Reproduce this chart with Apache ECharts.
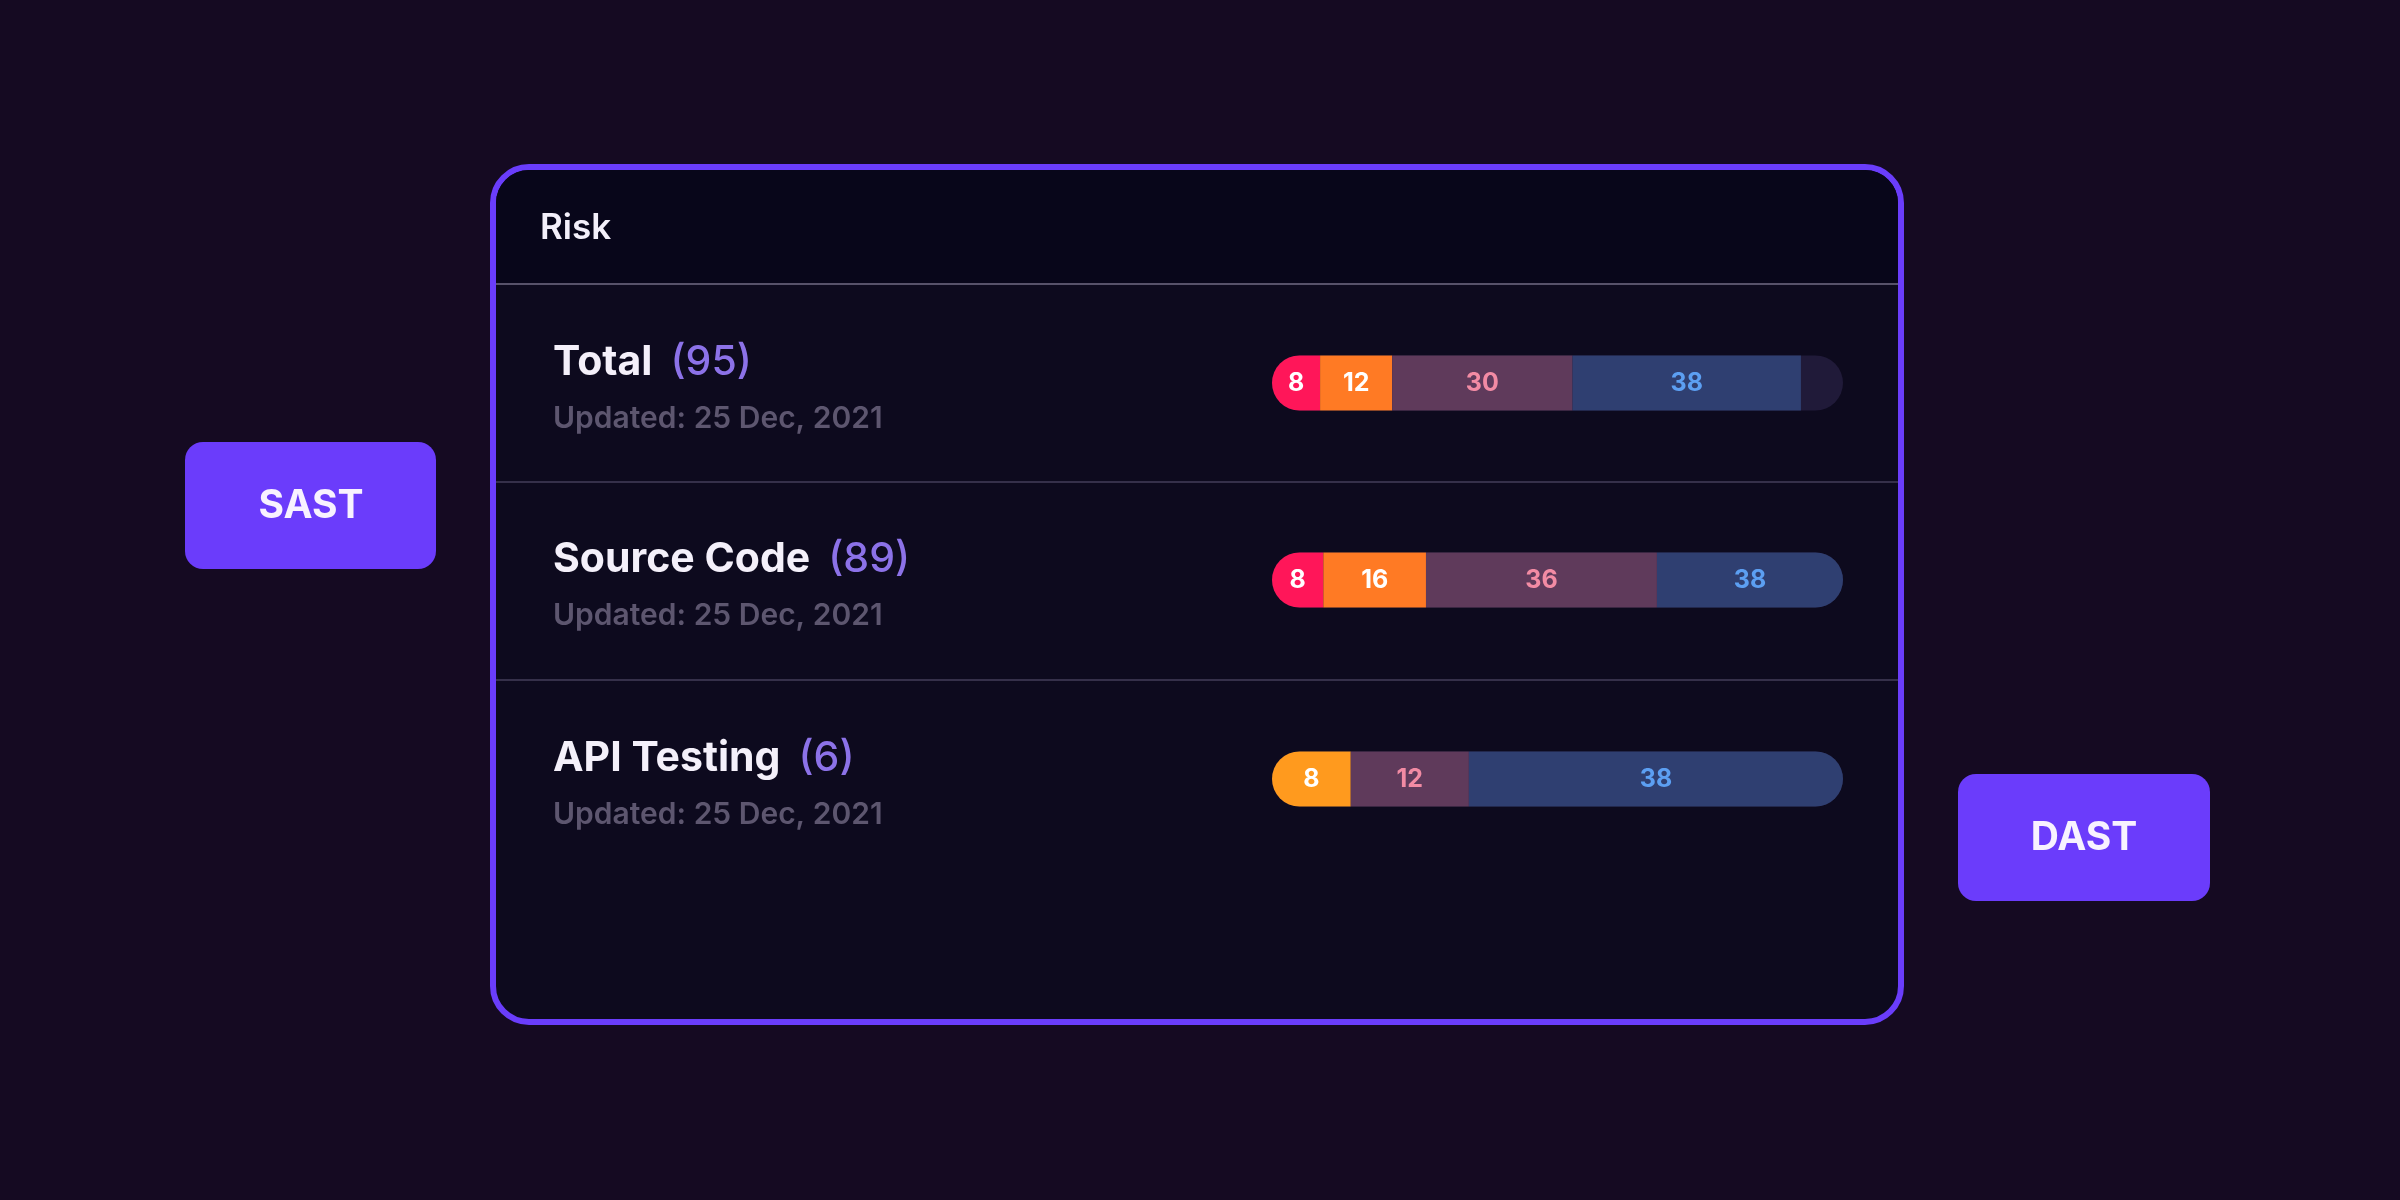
<!DOCTYPE html>
<html>
<head>
<meta charset="utf-8">
<title>Risk</title>
<script src="https://cdn.jsdelivr.net/npm/echarts@6/dist/echarts.min.js"></script>
<style>
  html, body { margin: 0; padding: 0; background: #150a22; }
  #chart { width: 2400px; height: 1200px; }
</style>
</head>
<body>
<div id="chart"></div>
<script>
// data
const rows = ['Total', 'Source Code', 'API Testing'];
const rowCounts = [95, 89, 6];
const updatedOn = ['25 Dec, 2021', '25 Dec, 2021', '25 Dec, 2021'];
const barScale = [95, 89, 58];   // what the full track stands for in each row
const critical = [8, 8, 0];
const high = [12, 16, 8];
const medium = [30, 36, 12];
const low = [38, 38, 38];

const FONT = 'Inter, "DejaVu Sans", sans-serif';
const BAR_H = 55;
const R = BAR_H / 2;
const rowCenters = [383, 580, 779];

const levels = [
    { name: 'Critical', values: critical, color: ['#ff1659', '#ff1659', '#ff1659'], text: '#ffffff' },
    { name: 'High', values: high, color: ['#ff7a24', '#ff7a24', '#ff9a1e'], text: '#ffffff' },
    { name: 'Medium', values: medium, color: ['#5f3a5b', '#5f3a5b', '#5f3a5b'], text: '#f28ba4' },
    { name: 'Low', values: low, color: ['#2f3f71', '#2f3f71', '#2f3f71'], text: '#5c9ff2' },
];

const series = [];
rows.forEach((row, r) => {
    // the track is clipped at barScale, anything past it is hidden
    let used = 0;
    const visible = levels.map(l => {
        const v = Math.max(0, Math.min(l.values[r], barScale[r] - used));
        used += v;
        return v;
    });
    const first = visible.findIndex(v => v > 0);
    let last = -1;
    visible.forEach((v, i) => { if (v > 0) last = i; });
    const fillsTrack = used >= barScale[r];

    levels.forEach((l, i) => {
        const left = i === first ? R : 0;
        const right = (i === last && fillsTrack) ? R : 0;
        const shown = l.values[r];
        series.push({
            type: 'bar',
            name: l.name,
            xAxisIndex: r,
            yAxisIndex: r,
            stack: 'risk' + r,
            barWidth: BAR_H,
            silent: true,
            showBackground: i === 0,
            backgroundStyle: { color: '#201a39', borderRadius: R },
            itemStyle: { color: l.color[r], borderRadius: [left, right, right, left] },
            label: {
                show: shown > 0,
                position: 'inside',
                formatter: () => String(shown),
                color: l.text,
                fontSize: 25,
                fontWeight: 700,
                fontFamily: FONT,
            },
            data: [visible[i]],
        });
    });
});

const graphic = [
    // card
    { type: 'rect', shape: { x: 493, y: 167, width: 1408, height: 855, r: 36 },
      style: { fill: '#0d0a1e', stroke: '#6a3dfb', lineWidth: 6 } },
    { type: 'rect', shape: { x: 496, y: 170, width: 1402, height: 113, r: [33, 33, 0, 0] },
      style: { fill: '#08061a' } },
    { type: 'line', shape: { x1: 496, y1: 284, x2: 1898, y2: 284 }, style: { stroke: '#57526a', lineWidth: 2 } },
    { type: 'line', shape: { x1: 496, y1: 482, x2: 1898, y2: 482 }, style: { stroke: '#35304a', lineWidth: 2 } },
    { type: 'line', shape: { x1: 496, y1: 680, x2: 1898, y2: 680 }, style: { stroke: '#35304a', lineWidth: 2 } },
    { type: 'text', x: 540, y: 228,
      style: { text: 'Risk', font: '600 35px ' + FONT, fill: '#f3effa', verticalAlign: 'middle', textVerticalAlign: 'middle' } },

    // side buttons
    { type: 'rect', shape: { x: 185, y: 442, width: 251, height: 127, r: 18 }, style: { fill: '#6b3cfb' } },
    { type: 'text', x: 311, y: 506,
      style: { text: 'SAST', font: '700 39px ' + FONT, fill: '#f8f2ff', align: 'center', textAlign: 'center',
               verticalAlign: 'middle', textVerticalAlign: 'middle' } },
    { type: 'rect', shape: { x: 1958, y: 774, width: 252, height: 127, r: 18 }, style: { fill: '#6b3cfb' } },
    { type: 'text', x: 2084, y: 838,
      style: { text: 'DAST', font: '700 39px ' + FONT, fill: '#f8f2ff', align: 'center', textAlign: 'center',
               verticalAlign: 'middle', textVerticalAlign: 'middle' } },
];

rows.forEach((row, r) => {
    const cy = rowCenters[r];
    graphic.push({
        type: 'text', x: 553, y: cy - 20,
        style: {
            text: '{n|' + row + '}{c|(' + rowCounts[r] + ')}',
            verticalAlign: 'middle', textVerticalAlign: 'middle',
            rich: {
                n: { fontSize: 41, fontWeight: 700, fontFamily: FONT, fill: '#f4f0fa', color: '#f4f0fa' },
                c: { fontSize: 41, fontWeight: 500, fontFamily: FONT, fill: '#8c72e8', color: '#8c72e8', padding: [0, 0, 0, 18] },
            },
        },
    });
    graphic.push({
        type: 'text', x: 553, y: cy + 36,
        style: { text: 'Updated: ' + updatedOn[r], font: '600 30px ' + FONT, fill: '#5d566f',
                 verticalAlign: 'middle', textVerticalAlign: 'middle' },
    });
});

const chart = echarts.init(document.getElementById('chart'));
chart.setOption({
    backgroundColor: '#150a22',
    animation: false,
    grid: rowCenters.map(c => ({ left: 1272, width: 571, top: c - BAR_H / 2, height: BAR_H })),
    xAxis: rows.map((_, r) => ({ type: 'value', gridIndex: r, min: 0, max: barScale[r], show: false })),
    yAxis: rows.map((row, r) => ({ type: 'category', gridIndex: r, data: [row], show: false })),
    graphic: graphic,
    series: series,
});
</script>
</body>
</html>
